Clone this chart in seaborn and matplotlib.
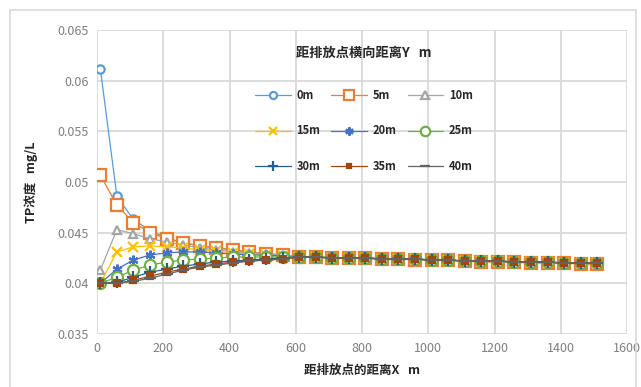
import numpy as np
import pandas as pd
import matplotlib
matplotlib.use("Agg")
import matplotlib.pyplot as plt
import seaborn as sns
from matplotlib.patches import Rectangle

x_dist = list(range(10, 1511, 50))

tail = [0.0426, 0.0426, 0.0425, 0.0425, 0.0425, 0.0424, 0.0424, 0.0424, 0.0423, 0.0423,
        0.0422, 0.0422, 0.0422, 0.0421, 0.0421, 0.0421, 0.0420, 0.0420, 0.0420]
tail_low = [0.0426, 0.0426, 0.0425, 0.0425, 0.0425, 0.0424, 0.0424, 0.0423, 0.0423, 0.0423,
            0.0422, 0.0421, 0.0421, 0.0421, 0.0420, 0.0420, 0.0420, 0.0419, 0.0419]

y_0m = [0.0612, 0.0486, 0.0463, 0.0452, 0.0445, 0.0440, 0.0437, 0.0435, 0.0433, 0.0431, 0.0429, 0.0428] + tail
y_5m = [0.0507, 0.0477, 0.0460, 0.0450, 0.0444, 0.0440, 0.0437, 0.0435, 0.0433, 0.0431, 0.0429, 0.0428] + tail_low
y_10m = [0.0413, 0.0453, 0.0449, 0.0444, 0.0441, 0.0438, 0.0435, 0.0433, 0.0431, 0.0430, 0.0429, 0.0428] + tail
y_15m = [0.0400, 0.0431, 0.0436, 0.0437, 0.0436, 0.0435, 0.0433, 0.0432, 0.0430, 0.0429, 0.0428, 0.0427] + tail
y_20m = [0.0400, 0.0414, 0.0423, 0.0428, 0.0430, 0.0431, 0.0431, 0.0430, 0.0429, 0.0428, 0.0428, 0.0427] + tail
y_25m = [0.0400, 0.0406, 0.0413, 0.0418, 0.0421, 0.0423, 0.0424, 0.0425, 0.0426, 0.0426, 0.0426, 0.0426] + tail
y_30m = [0.0400, 0.0401, 0.0406, 0.0411, 0.0414, 0.0417, 0.0419, 0.0421, 0.0422, 0.0423, 0.0424, 0.0425] + tail
y_35m = [0.0400, 0.0400, 0.0403, 0.0407, 0.0411, 0.0414, 0.0417, 0.0419, 0.0421, 0.0422, 0.0423, 0.0424] + tail
y_40m = [0.0400, 0.0400, 0.0402, 0.0405, 0.0409, 0.0413, 0.0416, 0.0418, 0.0420, 0.0422, 0.0423, 0.0424] + tail

series_names = ["0m", "5m", "10m", "15m", "20m", "25m", "30m", "35m", "40m"]
series_values = [y_0m, y_5m, y_10m, y_15m, y_20m, y_25m, y_30m, y_35m, y_40m]

colors = ["#5B9BD5", "#ED7D31", "#A5A5A5", "#FFC000", "#4472C4", "#70AD47", "#255E91", "#9E480E", "#636363"]
markers = ["o", "s", "^", "x", (6, 2, 0), "o", "+", "s", "_"]
msizes = [6, 8, 6, 7, 7, 8, 8, 4, 9]
open_face = [True, True, True, False, False, True, False, False, False]

sns.set_theme(style="white")
plt.rcParams['font.family'] = ['Noto Sans CJK SC', 'DejaVu Sans']

fig = plt.figure(figsize=(6.41, 3.87), dpi=100)
ax = fig.add_axes([97/641, 1-334/387, 530/641, 304/387])

for name, vals, c, m, ms, of in zip(series_names, series_values, colors, markers, msizes, open_face):
    df = pd.DataFrame({"x": x_dist, "y": vals})
    sns.lineplot(data=df, x="x", y="y", ax=ax, color=c, marker=m, markersize=ms,
                 markerfacecolor="white" if of else c, markeredgecolor=c,
                 markeredgewidth=1.6, linewidth=0.9, label=name, legend=False)

ax.set_xlim(0, 1600)
ax.set_ylim(0.035, 0.065)
ax.set_xticks(range(0, 1601, 200))
ax.set_yticks([0.035, 0.04, 0.045, 0.05, 0.055, 0.06, 0.065])
ax.set_yticklabels(["0.035", "0.04", "0.045", "0.05", "0.055", "0.06", "0.065"])
ax.grid(True, color="#D9D9D9", linewidth=1.3)
ax.set_axisbelow(True)
for s in ax.spines.values():
    s.set_visible(False)
ax.tick_params(axis="both", labelsize=9, colors="#7F7F7F", length=0, pad=6)

ax.set_xlabel("距排放点的距离X   m", fontsize=9, fontweight="bold", color="#262626", labelpad=6)
ax.set_ylabel("TP浓度   mg/L", fontsize=9, fontweight="bold", color="#262626", labelpad=14)

handles = ax.get_lines()[:9]
order = [0, 3, 6, 1, 4, 7, 2, 5, 8]
leg = ax.legend([handles[i] for i in order], [series_names[i] for i in order],
                ncol=3, loc="upper left", bbox_to_anchor=(0.28, 0.98), frameon=False,
                title="距排放点横向距离Y   m", fontsize=8, handlelength=3.2,
                labelspacing=2.0, columnspacing=1.0, handletextpad=0.5, markerscale=0.85)
leg.get_title().set_fontweight("bold")
leg.get_title().set_fontsize(9.5)
leg._legend_box.sep = 21
for t in leg.get_texts():
    t.set_fontweight("bold")

fig.patches.append(Rectangle((10/641, -0.01), 626/641, 1 - 10/387 + 0.01, transform=fig.transFigure,
                             fill=False, edgecolor="#D9D9D9", linewidth=1.2))

fig.savefig("out.png", dpi=100)
